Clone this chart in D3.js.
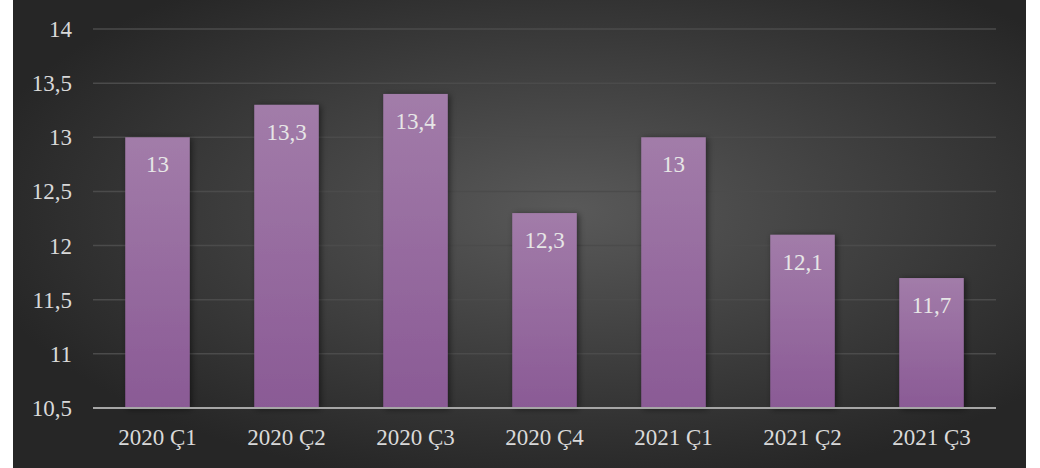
<!DOCTYPE html>
<html>
<head>
<meta charset="utf-8">
<script src="https://cdn.jsdelivr.net/npm/d3@7"></script>
<style>
  body { margin: 0; background: #fff; }
</style>
</head>
<body>
<svg id="chart" width="1040" height="468"></svg>
<script>
const categories = ['2020 Ç1', '2020 Ç2', '2020 Ç3', '2020 Ç4', '2021 Ç1', '2021 Ç2', '2021 Ç3'];
const values = [13, 13.3, 13.4, 12.3, 13, 12.1, 11.7];
const yTicks = [10.5, 11, 11.5, 12, 12.5, 13, 13.5, 14];

const svg = d3.select('#chart');
const W = 1040;
const H = 468;
const margin = { left: 93, right: 44, top: 29, bottom: 60 };
const FONT = '"Liberation Serif"';
const fmt = d => String(d).replace('.', ',');

const defs = svg.append('defs');
const bg = defs.append('radialGradient').attr('id', 'bg')
  .attr('cx', '55%').attr('cy', '45%').attr('r', '60%');
bg.append('stop').attr('offset', '0%').attr('stop-color', '#595959');
bg.append('stop').attr('offset', '100%').attr('stop-color', '#262626');

const barGrad = defs.append('linearGradient').attr('id', 'barGrad')
  .attr('x1', 0).attr('y1', 0).attr('x2', 0).attr('y2', 1);
barGrad.append('stop').attr('offset', '0%').attr('stop-color', '#a27ca9');
barGrad.append('stop').attr('offset', '100%').attr('stop-color', '#8a5a95');

const shadow = defs.append('filter').attr('id', 'shadow')
  .attr('x', '-20%').attr('y', '-10%').attr('width', '150%').attr('height', '130%');
shadow.append('feDropShadow').attr('dx', 2).attr('dy', 1).attr('stdDeviation', 3)
  .attr('flood-color', '#000').attr('flood-opacity', 0.5);

svg.append('rect').attr('x', 13).attr('y', 0).attr('width', 1013).attr('height', H)
  .attr('fill', 'url(#bg)');

const x = d3.scaleBand().domain(categories)
  .range([margin.left, W - margin.right]).paddingInner(0.5).paddingOuter(0.25);
const y = d3.scaleLinear().domain([10.5, 14]).range([H - margin.bottom, margin.top]);

// gridlines
svg.append('g').selectAll('line')
  .data(yTicks.slice(1))
  .enter()
  .append('line')
  .attr('x1', margin.left).attr('x2', W - margin.right)
  .attr('y1', d => y(d)).attr('y2', d => y(d))
  .attr('stroke', '#4b4b4b').attr('stroke-width', 1.5);

// y labels
svg.append('g').selectAll('text')
  .data(yTicks)
  .enter()
  .append('text')
  .attr('x', 72).attr('y', d => y(d))
  .attr('dy', '0.35em')
  .attr('text-anchor', 'end')
  .style('font-family', FONT)
  .style('font-size', '23px')
  .attr('fill', '#d9d9d9')
  .text(fmt);

// bars
svg.append('g').selectAll('rect')
  .data(values)
  .enter()
  .append('rect')
  .attr('x', (d, i) => x(categories[i]))
  .attr('y', d => y(d))
  .attr('width', x.bandwidth())
  .attr('height', d => y(10.5) - y(d))
  .attr('fill', 'url(#barGrad)')
  .attr('filter', 'url(#shadow)');

// value labels
svg.append('g').selectAll('text')
  .data(values)
  .enter()
  .append('text')
  .attr('x', (d, i) => x(categories[i]) + x.bandwidth() / 2)
  .attr('y', d => y(d) + 35)
  .attr('text-anchor', 'middle')
  .style('font-family', FONT)
  .style('font-size', '23px')
  .attr('fill', '#e6e6e6')
  .text(fmt);

// baseline
svg.append('line')
  .attr('x1', margin.left).attr('x2', W - margin.right)
  .attr('y1', y(10.5)).attr('y2', y(10.5))
  .attr('stroke', '#a6a6a6').attr('stroke-width', 2);

// x labels
svg.append('g').selectAll('text')
  .data(categories)
  .enter()
  .append('text')
  .attr('x', d => x(d) + x.bandwidth() / 2)
  .attr('y', y(10.5) + 37)
  .attr('text-anchor', 'middle')
  .style('font-family', FONT)
  .style('font-size', '23px')
  .attr('fill', '#d9d9d9')
  .text(d => d);
</script>
</body>
</html>
